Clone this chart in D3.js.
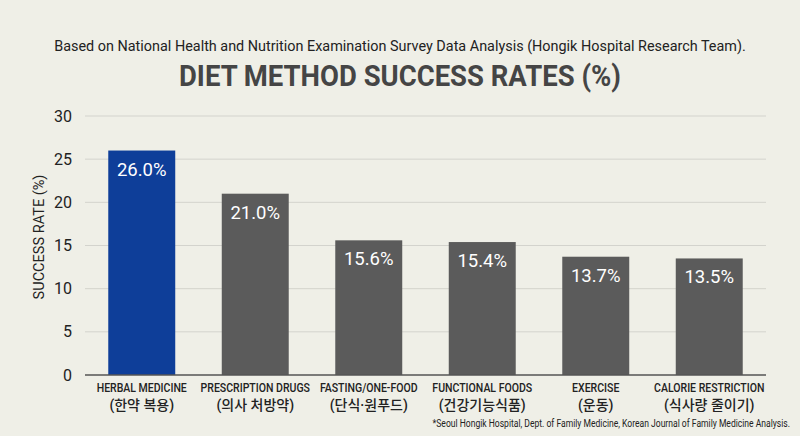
<!DOCTYPE html>
<html><head><meta charset="utf-8">
<script src="https://cdn.jsdelivr.net/npm/d3@7"></script>
<style>
html,body{margin:0;padding:0;background:#efefe7;}
svg{display:block;}
text{font-family:Roboto,"Noto Sans CJK KR",sans-serif;}
</style></head>
<body>
<svg id="chart" width="800" height="436"></svg>
<script>
const categories = ["HERBAL MEDICINE","PRESCRIPTION DRUGS","FASTING/ONE-FOOD","FUNCTIONAL FOODS","EXERCISE","CALORIE RESTRICTION"];
const categoriesKo = ["(한약 복용)","(의사 처방약)","(단식·원푸드)","(건강기능식품)","(운동)","(식사량 줄이기)"];
const values = [26.0, 21.0, 15.6, 15.4, 13.7, 13.5];
const yTicks = [0, 5, 10, 15, 20, 25, 30];
const subtitle = "Based on National Health and Nutrition Examination Survey Data Analysis (Hongik Hospital Research Team).";
const title = "DIET METHOD SUCCESS RATES (%)";
const yLabel = "SUCCESS RATE (%)";
const footnote = "*Seoul Hongik Hospital, Dept. of Family Medicine, Korean Journal of Family Medicine Analysis.";

const svg = d3.select("#chart");
svg.append("rect").attr("width",800).attr("height",436).attr("fill","#efefe7");

const x = d3.scaleBand().domain(categories).range([85,766]).paddingInner(0.41).paddingOuter(0.205);
const y = d3.scaleLinear().domain([0,30]).range([375,116]);

// condensed text via horizontal scale transform about anchor point
function condensed(parent, tx, ty, str, anchor, size, weight, fill, sx){
  const g = parent.append("g").attr("transform",`translate(${tx},${ty}) scale(${sx},1)`);
  return g.append("text").attr("x",0).attr("y",0).attr("text-anchor",anchor)
    .attr("font-size",size).attr("font-weight",weight).attr("fill",fill).text(str);
}
function fitWidth(parent, tx, ty, str, anchor, size, weight, fill, target){
  const t = condensed(parent, tx, ty, str, anchor, size, weight, fill, 1);
  const w = t.node().getComputedTextLength();
  d3.select(t.node().parentNode).attr("transform",`translate(${tx},${ty}) scale(${target/w},1)`);
  return t;
}

// titles
fitWidth(svg, 400, 51, subtitle, "middle", 15.5, 400, "#222", 692);
fitWidth(svg, 400, 86, title, "middle", 29, 700, "#454545", 442);

// grid
svg.append("g").selectAll("line").data(yTicks.filter(d=>d>0)).join("line")
  .attr("x1",85).attr("x2",766).attr("y1",d=>y(d)).attr("y2",d=>y(d))
  .attr("stroke","#d3d3cd").attr("stroke-width",1);

// y axis labels
const yAxis = svg.append("g").attr("transform","translate(72,0)")
  .call(d3.axisLeft(y).tickValues(yTicks).tickSize(0).tickPadding(0));
yAxis.select(".domain").remove();
yAxis.selectAll("text").attr("font-size",16).attr("fill","#222").attr("font-family","Roboto");

// rotated y label, condensed along its length
(function(){
  const g = svg.append("g").attr("transform","translate(44,237) rotate(-90)");
  const t = g.append("text").attr("text-anchor","middle").attr("font-size",15.5).attr("fill","#222").text(yLabel);
  const w = t.node().getComputedTextLength();
  g.attr("transform",`translate(44,237) rotate(-90) scale(${125/w},1)`);
})();

// bars
svg.append("g").selectAll("rect").data(values).join("rect")
  .attr("x",(d,i)=>x(categories[i])).attr("width",x.bandwidth())
  .attr("y",d=>y(d)).attr("height",d=>y(0)-y(d))
  .attr("fill",(d,i)=>i===0?"#0e3e99":"#5b5b5b");

svg.append("g").selectAll("text").data(values).join("text")
  .attr("x",(d,i)=>x(categories[i])+x.bandwidth()/2).attr("y",d=>y(d)+25)
  .attr("text-anchor","middle").attr("font-size",18.5).attr("fill","#fff")
  .text(d=>d.toFixed(1)+"%");

// baseline
svg.append("line").attr("x1",85).attr("x2",766).attr("y1",y(0)).attr("y2",y(0))
  .attr("stroke","#555").attr("stroke-width",1.5);

// x labels
const xl = svg.append("g");
categories.forEach((c,i)=>{
  const cx = x(c)+x.bandwidth()/2;
  condensed(xl, cx, 392, c, "middle", 13, 500, "#222", 0.81);
  xl.append("text").attr("x",cx).attr("y",410).attr("text-anchor","middle")
    .attr("font-size",14).attr("font-weight",500).attr("fill","#222").text(categoriesKo[i]);
});

fitWidth(svg, 790, 427, footnote, "end", 11, 400, "#222", 358);
</script>
</body></html>
